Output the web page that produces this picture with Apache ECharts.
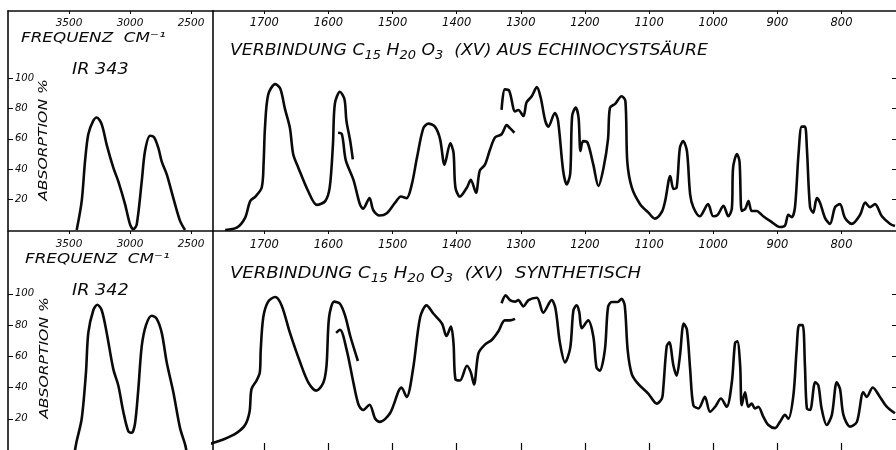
<!DOCTYPE html>
<html><head><meta charset="utf-8">
<script src="https://cdn.jsdelivr.net/npm/echarts@6/dist/echarts.min.js"></script>
<style>html,body{margin:0;padding:0;background:#fff}#c{width:896px;height:450px}</style>
</head><body><div id="c"></div>
<script>
// ---------- tick labels ----------
const leftTicks = [3500, 3000, 2500];
const rightTicks = [1700, 1600, 1500, 1400, 1300, 1200, 1100, 1000, 900, 800];
const yTicks = [20, 40, 60, 80, 100];

// ---------- IR 343 (top) : [wavenumber cm-1, absorption %] ----------
const ir343_OH = [[3437,0],[3396,19],[3369,45],[3342,63],[3301,72],[3273,74],[3232,69.5],[3191,56],[3137,41],[3096,32],[3041,17],[3000,3.7],[2973,0.5],[2945,3.7],[2904,32],[2877,52],[2836,62],[2803,61],[2768,54],[2740,45],[2699,36.6],[2645,21],[2590,6],[2549,0]];
const ir343_a = [[1761,0],[1743,1.5],[1730,8],[1722,19],[1714,22],[1704,28],[1701,45],[1699,67],[1694,89],[1683,96],[1675,93],[1668,80],[1660,67],[1655,50],[1647,41],[1631,25],[1618,16.5],[1605,19],[1598,28],[1593,56],[1590,83],[1582,91],[1575,86],[1572,72],[1566,58.5],[1562,46.5]];
const ir343_b = [[1585,64],[1579,63],[1573,46],[1561,33],[1551,17],[1546,14],[1536,21],[1530,13],[1520,9.5],[1509,11],[1496,18],[1487,22],[1478,21],[1470,30],[1462,47.5],[1452,67],[1444,70],[1434,68],[1426,60],[1419,43],[1410,57],[1405,51],[1402,28],[1395,22],[1384,28],[1378,33],[1370,24.5],[1364,39],[1356,43],[1348,53],[1340,61],[1330,63],[1322,69],[1317,67],[1310,64]];
const ir343_c = [[1330,79],[1325,92.5],[1318,91.5],[1309,78],[1304,79],[1296,75],[1291,84],[1283,88],[1275,94],[1269,87],[1262,72],[1257,68],[1247,77],[1242,72],[1234,39],[1228.5,30],[1223,37],[1220,75],[1214.5,80.5],[1210,74],[1207,52],[1203,58.5],[1196,57.5],[1187,43],[1179,29],[1171,41],[1164,60],[1161,80.5],[1153,83],[1143,88],[1137,85],[1134,45],[1127,28],[1114,17],[1101,11.4],[1091,7.5],[1080,12],[1075,19],[1067,35.5],[1062,27],[1057,28],[1052,54],[1047,58.5],[1041,52],[1036,23.5],[1031,15],[1021,9],[1008,17],[1000,9],[993,10],[984,16],[976.5,9],[971,14],[969,41],[963,50],[959,45],[955.5,12.5],[950,14],[945,19],[940,12.5],[932,12.5],[927,11],[922,9],[911.5,6],[896,2],[888,3],[883,10],[877.5,8.5],[872.5,15],[867,50],[862,68],[857,68],[854,54],[849,15],[844,11.4],[838.5,21],[833.5,18],[825.7,8],[818,4],[810,15],[802.4,17],[794.6,8],[784,4],[771,10],[763,18],[755.6,15],[747.8,17],[737,9],[724,4],[716.6,2.6]];

// ---------- IR 342 (bottom) ----------
const ir342_OH = [[3460,-4],[3437,5.7],[3396,20],[3361,49.7],[3342,75],[3301,89.5],[3268,93],[3232,89.5],[3191,75],[3137,51.8],[3096,41.3],[3055,24.5],[3014,12],[2986,11],[2959,17],[2932,39],[2904,66.5],[2869,80],[2822,86],[2781,84],[2740,75],[2699,56],[2645,37],[2590,14],[2549,3.6],[2530,-4]];
const ir342_a = [[1800,2],[1779.5,4.6],[1764,6.7],[1743,11],[1730,16],[1723,24.5],[1720,39],[1712,44.5],[1707,49.7],[1705.6,64],[1701.6,85],[1694,95],[1683,98],[1673,92.6],[1660,75],[1644,56],[1631,43],[1619,38],[1608,43],[1603,54],[1599,85],[1591,95],[1582,93.7],[1574,86],[1566,73],[1554,57]];
const ir342_b = [[1588,75],[1582,77],[1571.5,64],[1561,43],[1553,29],[1546,25.6],[1536,29],[1527,20],[1520,18],[1504,23.5],[1486,40],[1478,34],[1468,52],[1457,85],[1447,92.6],[1436.5,87.4],[1423,81],[1416,73],[1409,79],[1405,68.5],[1402,45.5],[1395,44.5],[1384,54],[1378,49.7],[1373,42],[1366,62],[1356,67.5],[1345,70.6],[1335,76],[1325,83],[1317,83],[1309,84]];
const ir342_c = [[1330,94],[1323.6,99],[1317,96],[1309,95],[1304,96],[1296,92],[1288,96],[1275,97.5],[1265,88],[1252,96],[1246,90.6],[1239,68.5],[1231,56],[1223,65.4],[1218,89.5],[1213,92.6],[1209,88.5],[1205,78],[1195,83],[1187,72.8],[1182,52.8],[1177,50.8],[1169,64],[1164,91.6],[1158,94.8],[1149,94.8],[1143,96.9],[1138,92.6],[1133.4,64],[1127,48.6],[1117,42.3],[1101,36],[1088,29.7],[1080,33],[1078,39],[1072.5,66.5],[1068.5,69],[1062,54],[1057,47.6],[1052,60],[1046,81],[1041,77],[1036,51.8],[1031,28.7],[1023,26.6],[1013,34],[1005,24.5],[997,27.7],[988,33],[979,27.7],[971,43.4],[966,68.5],[962.4,69.6],[958,54],[955.6,28.7],[950.4,37],[945.3,27.7],[940,29.7],[935,26.6],[929.7,27.7],[922,21.4],[914,16],[903.6,14],[896,18],[888,22.5],[883,20],[875,35],[870,64],[866,80],[860.5,80],[857,54],[854,26.6],[849,25.6],[841,43.4],[836,41.3],[831,26.6],[823,16],[815,22.5],[807.4,43.4],[802.3,39],[797,22.5],[786.7,15],[776,18],[766,37],[760.7,34],[751.3,40],[740,34],[729.5,27.7],[716.6,23.5]];

// ---------- texts ----------
const freqLabel = 'FREQUENZ  CM⁻¹';
const yName = 'ABSORPTION %';
const topId = 'IR 343';
const botId = 'IR 342';
const topTitle = 'VERBINDUNG C{s|15} H{s|20} O{s|3}  (XV) AUS ECHINOCYSTSÄURE';
const botTitle = 'VERBINDUNG C{s|15} H{s|20} O{s|3}  (XV)  SYNTHETISCH';

const ink = '#0a0a0a';
const FONT = 'DejaVu Sans';
const axisLine = {show: true, onZero: false, lineStyle: {color: ink, width: 1.6}};
const plain = v => String(v);

function xTop(gi, min, max, ticks, fs, margin) {
  return {type: 'value', gridIndex: gi, position: 'top', inverse: true, min, max,
    axisLine,
    axisTick: {show: true, inside: true, length: 3, customValues: ticks, lineStyle: {color: ink, width: 1}},
    axisLabel: {show: true, inside: true, margin, customValues: ticks, formatter: plain, color: ink, fontFamily: FONT, fontStyle: 'italic', fontSize: fs},
    splitLine: {show: false}};
}
function xBottomTicks(gi, min, max, ticks) {
  return {type: 'value', gridIndex: gi, position: 'bottom', inverse: true, min, max,
    axisLine: {show: false},
    axisTick: {show: true, inside: true, length: 7, customValues: ticks, lineStyle: {color: ink, width: 1.2}},
    axisLabel: {show: false}, splitLine: {show: false}};
}
function yLeft(gi, max) {
  return {type: 'value', gridIndex: gi, position: 'left', min: 0, max,
    axisLine,
    axisTick: {show: true, inside: true, length: 5, customValues: yTicks, lineStyle: {color: ink, width: 1}},
    axisLabel: {show: true, inside: true, margin: 7, customValues: yTicks, formatter: plain, color: ink, fontFamily: FONT, fontStyle: 'italic', fontSize: 10},
    splitLine: {show: false}};
}
function yDivider(gi, max) {
  return {type: 'value', gridIndex: gi, position: 'right', min: 0, max, axisLine,
    axisTick: {show: false}, axisLabel: {show: false}, splitLine: {show: false}};
}
function yRight(gi, max) {
  return {type: 'value', gridIndex: gi, position: 'right', min: 0, max,
    axisLine: {show: false},
    axisTick: {show: true, inside: true, length: 4, customValues: yTicks, lineStyle: {color: ink, width: 1}},
    axisLabel: {show: false}, splitLine: {show: false}};
}
function curve(data, xi, yi) {
  return {type: 'line', xAxisIndex: xi, yAxisIndex: yi, data, smooth: 0.3, symbol: 'none',
    lineStyle: {color: ink, width: 2.6}, silent: true, clip: true};
}
function txt(text, x, y, fs, opts) {
  opts = opts || {};
  return {type: 'text', x, y, rotation: opts.rot || 0, scaleX: opts.sx || 1, scaleY: 1, silent: true,
    style: {text, fill: ink, fontFamily: FONT, fontStyle: 'italic', fontSize: fs,
      align: opts.align || 'left', verticalAlign: 'middle',
      rich: {s: {fontSize: fs * 0.75, fontFamily: FONT, fontStyle: 'italic', fill: ink, padding: [9, 0, 0, 0]}}}};
}

const TOPMAX = 144.1, BOTMAX = 140.25;
const option = {
  animation: false,
  backgroundColor: '#fff',
  grid: [
    {left: 8, top: 11, width: 205, height: 219},
    {left: 213, top: 11, width: 683, height: 219},
    {left: 8, top: 231, width: 205, height: 223},
    {left: 213, top: 231, width: 683, height: 223}
  ],
  xAxis: [
    xTop(0, 2320, 4000, leftTicks, 10.5, 7),
    xTop(1, 715, 1780, rightTicks, 11.5, 6),
    xTop(2, 2320, 4000, leftTicks, 10.5, 8),
    xTop(3, 715, 1780, rightTicks, 11.5, 8),
    xBottomTicks(3, 715, 1780, rightTicks)
  ],
  yAxis: [
    yLeft(0, TOPMAX), yDivider(0, TOPMAX), yRight(1, TOPMAX),
    yLeft(2, BOTMAX), yDivider(2, BOTMAX), yRight(3, BOTMAX)
  ],
  series: [
    curve(ir343_OH, 0, 0),
    curve(ir343_a, 1, 2), curve(ir343_b, 1, 2), curve(ir343_c, 1, 2),
    curve(ir342_OH, 2, 3),
    curve(ir342_a, 3, 5), curve(ir342_b, 3, 5), curve(ir342_c, 3, 5)
  ],
  graphic: [
    txt(freqLabel, 21, 38, 14, {sx: 1.2}),
    txt(freqLabel, 25, 259, 14, {sx: 1.2}),
    txt(topId, 72, 70, 16, {sx: 1.1}),
    txt(botId, 72, 291, 16, {sx: 1.1}),
    txt(yName, 44, 140, 13, {rot: Math.PI / 2, sx: 1.2, align: 'center'}),
    txt(yName, 45, 358, 13, {rot: Math.PI / 2, sx: 1.2, align: 'center'}),
    txt(topTitle, 230, 51, 16, {sx: 1.08}),
    txt(botTitle, 230, 274, 16, {sx: 1.13})
  ]
};
const chart = echarts.init(document.getElementById('c'), null, {renderer: 'canvas'});
chart.setOption(option);
</script></body></html>
